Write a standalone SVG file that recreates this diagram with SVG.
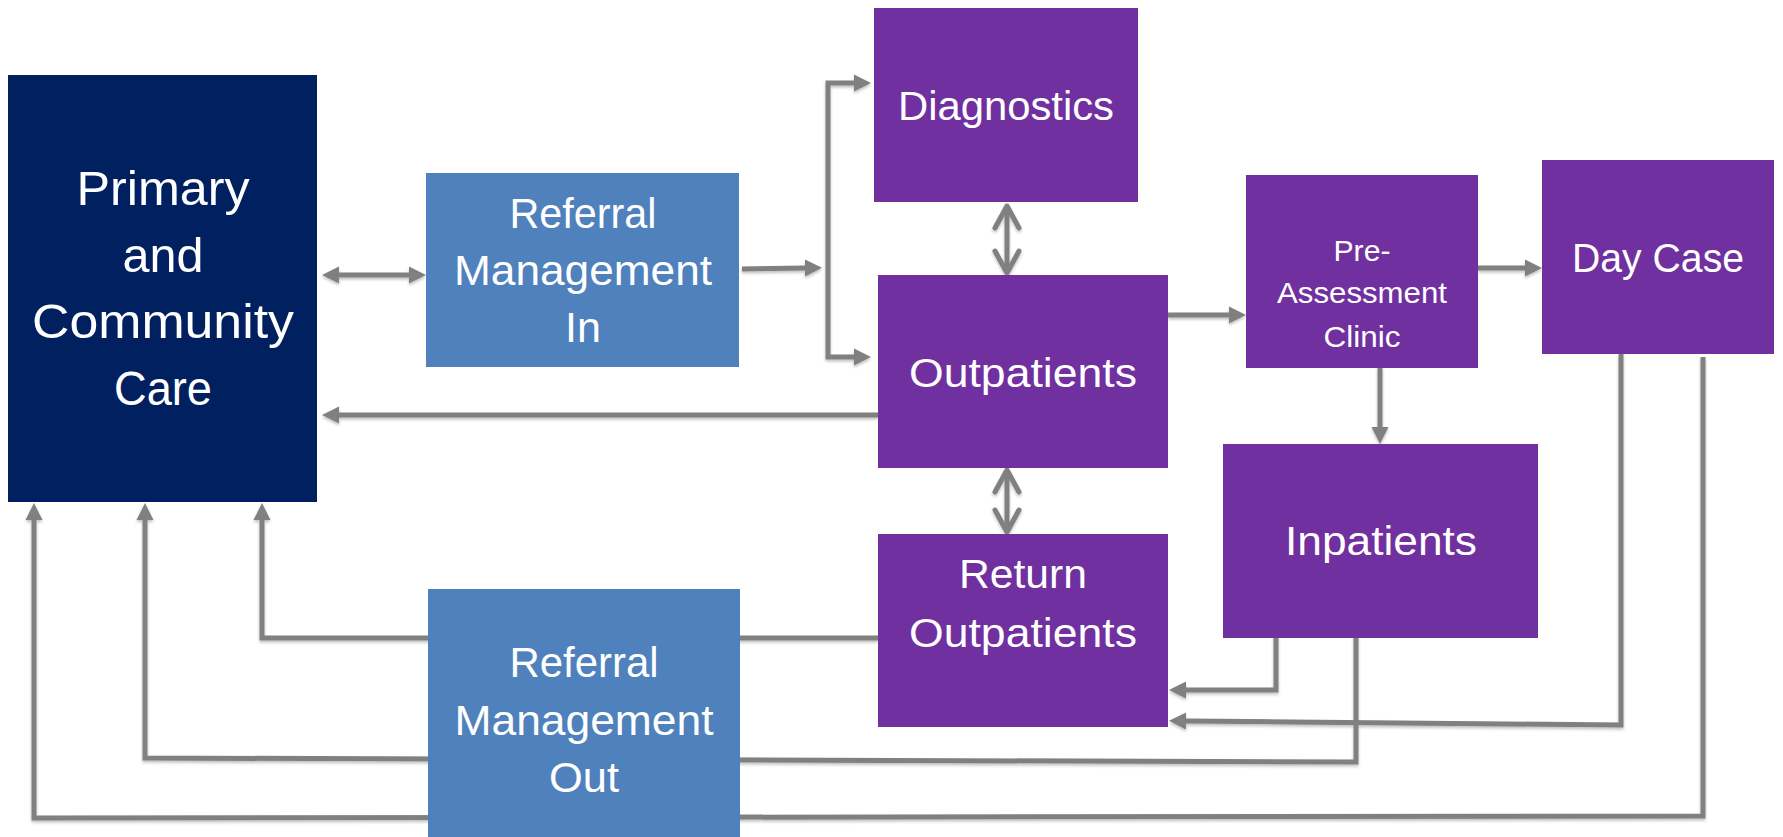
<svg xmlns="http://www.w3.org/2000/svg" width="1783" height="837" viewBox="0 0 1783 837">
<style>
.t{font-family:"Liberation Sans",Arial,sans-serif;fill:#fff;text-anchor:middle}
.conn{fill:none;stroke:#808080;stroke-width:5}
.navy{fill:#002060}.blue{fill:#4F81BD}.purple{fill:#7030A0}
</style>
<defs>
<marker id="tri" markerUnits="userSpaceOnUse" markerWidth="18" markerHeight="18" refX="0" refY="8.5" viewBox="0 0 18 17" orient="auto-start-reverse"><path d="M0,0 L17,8.5 L0,17 z" fill="#808080"/></marker>
<marker id="vee" markerUnits="userSpaceOnUse" markerWidth="32" markerHeight="32" refX="26" refY="16" viewBox="0 0 32 32" orient="auto-start-reverse"><path d="M4,4 L26,16 L4,28" fill="none" stroke="#808080" stroke-width="5" stroke-linecap="round" stroke-linejoin="round"/></marker>
<filter id="sh" x="-5%" y="-5%" width="110%" height="110%"><feDropShadow dx="0" dy="2" stdDeviation="1.5" flood-color="#000" flood-opacity="0.25"/></filter>
</defs>
<g id="connectors" filter="url(#sh)">
<path class="conn" d="M339,275 H409" marker-start="url(#tri)" marker-end="url(#tri)"/>
<path class="conn" d="M742,269 L805,268" marker-end="url(#tri)"/>
<path class="conn" d="M854,83 H828 V357 H854" marker-start="url(#tri)" marker-end="url(#tri)"/>
<path class="conn" d="M878,415 H339" marker-end="url(#tri)"/>
<path class="conn" d="M1007,206 V273" marker-start="url(#vee)" marker-end="url(#vee)"/>
<path class="conn" d="M1007,470 V532" marker-start="url(#vee)" marker-end="url(#vee)"/>
<path class="conn" d="M1168,315 H1229" marker-end="url(#tri)"/>
<path class="conn" d="M1478,268 H1525" marker-end="url(#tri)"/>
<path class="conn" d="M1380,366 V427" marker-end="url(#tri)"/>
<path class="conn" d="M1276,634 V690 H1186" marker-end="url(#tri)"/>
<path class="conn" d="M1621,354 V725 L1186,721" marker-end="url(#tri)"/>
<path class="conn" d="M1356,633 V762 L145,758 V520" marker-end="url(#tri)"/>
<path class="conn" d="M1703,357 V816 L34,818 V520" marker-end="url(#tri)"/>
<path class="conn" d="M878,638 H262 V520" marker-end="url(#tri)"/>
</g>
<g id="primary">
<rect class="navy" x="8" y="75" width="309" height="427"/>
<text class="t" font-size="49"><tspan x="163" y="205" textLength="173" lengthAdjust="spacingAndGlyphs">Primary</tspan><tspan x="163" y="272" textLength="81" lengthAdjust="spacingAndGlyphs">and</tspan><tspan x="163" y="338" textLength="262" lengthAdjust="spacingAndGlyphs">Community</tspan><tspan x="163" y="405" textLength="98" lengthAdjust="spacingAndGlyphs">Care</tspan></text>
</g>
<g id="referral-in">
<rect class="blue" x="426" y="173" width="313" height="194"/>
<text class="t" font-size="43"><tspan x="583" y="228" textLength="147" lengthAdjust="spacingAndGlyphs">Referral</tspan><tspan x="583" y="285" textLength="258" lengthAdjust="spacingAndGlyphs">Management</tspan><tspan x="583" y="342">In</tspan></text>
</g>
<g id="diagnostics">
<rect class="purple" x="874" y="8" width="264" height="194"/>
<text class="t" font-size="41" x="1006" y="120" textLength="216" lengthAdjust="spacingAndGlyphs">Diagnostics</text>
</g>
<g id="outpatients">
<rect class="purple" x="878" y="275" width="290" height="193"/>
<text class="t" font-size="41" x="1023" y="387" textLength="228" lengthAdjust="spacingAndGlyphs">Outpatients</text>
</g>
<g id="pre-assessment">
<rect class="purple" x="1246" y="175" width="232" height="193"/>
<text class="t" font-size="30"><tspan x="1362" y="261" textLength="57" lengthAdjust="spacingAndGlyphs">Pre-</tspan><tspan x="1362" y="303" textLength="170" lengthAdjust="spacingAndGlyphs">Assessment</tspan><tspan x="1362" y="347" textLength="77" lengthAdjust="spacingAndGlyphs">Clinic</tspan></text>
</g>
<g id="day-case">
<rect class="purple" x="1542" y="160" width="232" height="194"/>
<text class="t" font-size="41" x="1658" y="272" textLength="172" lengthAdjust="spacingAndGlyphs">Day Case</text>
</g>
<g id="inpatients">
<rect class="purple" x="1223" y="444" width="315" height="194"/>
<text class="t" font-size="41" x="1381" y="555" textLength="192" lengthAdjust="spacingAndGlyphs">Inpatients</text>
</g>
<g id="return-outpatients">
<rect class="purple" x="878" y="534" width="290" height="193"/>
<text class="t" font-size="41"><tspan x="1023" y="588" textLength="128" lengthAdjust="spacingAndGlyphs">Return</tspan><tspan x="1023" y="647" textLength="228" lengthAdjust="spacingAndGlyphs">Outpatients</tspan></text>
</g>
<g id="referral-out">
<rect class="blue" x="428" y="589" width="312" height="260"/>
<text class="t" font-size="43"><tspan x="584" y="677" textLength="149" lengthAdjust="spacingAndGlyphs">Referral</tspan><tspan x="584" y="735" textLength="259" lengthAdjust="spacingAndGlyphs">Management</tspan><tspan x="584" y="792" textLength="70" lengthAdjust="spacingAndGlyphs">Out</tspan></text>
</g>
</svg>
